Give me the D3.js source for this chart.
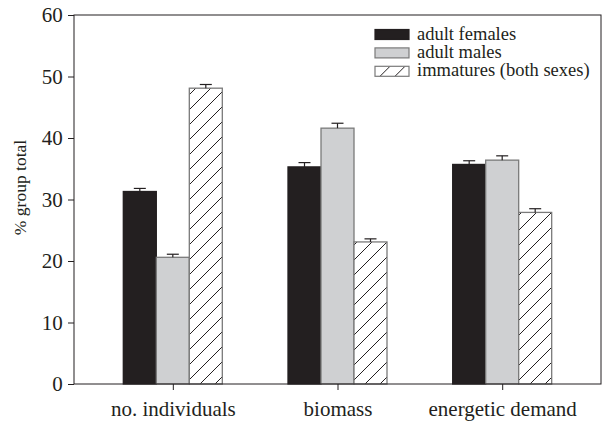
<!DOCTYPE html>
<html>
<head>
<meta charset="utf-8">
<script src="https://cdn.jsdelivr.net/npm/d3@7"></script>
<style>
  body { margin: 0; background: #fff; }
</style>
</head>
<body>
<svg id="chart" width="606" height="421"></svg>
<script>
const categories = ["no. individuals", "biomass", "energetic demand"];
const seriesNames = ["adult females", "adult males", "immatures (both sexes)"];
const females = [31.3, 35.3, 35.7];
const males = [20.6, 41.6, 36.4];
const immatures = [48.1, 23.1, 27.9];
const femalesErr = [0.5, 0.7, 0.6];
const malesErr = [0.5, 0.8, 0.7];
const immaturesErr = [0.6, 0.5, 0.6];
const yTicks = [0, 10, 20, 30, 40, 50, 60];

const FONT = '"Liberation Serif", "Times New Roman", serif';
const INK = "#231f20";
// the serif face only shows at small sizes here, so draw at 17px and scale up
const BASE = 17;
const KT = 21 / BASE;
const KL = 18.5 / BASE;

const svg = d3.select("#chart");
const margin = { top: 15, right: 5, bottom: 37, left: 74 };
const width = 606 - margin.left - margin.right;
const height = 421 - margin.top - margin.bottom;

const series = [
  { name: seriesNames[0], values: females, err: femalesErr, fill: INK },
  { name: seriesNames[1], values: males, err: malesErr, fill: "#cfd0d2" },
  { name: seriesNames[2], values: immatures, err: immaturesErr, fill: "url(#hatch)" },
];

// hatch pattern
const defs = svg.append("defs");
const pat = defs.append("pattern")
  .attr("id", "hatch")
  .attr("patternUnits", "userSpaceOnUse")
  .attr("width", 15).attr("height", 15);
pat.append("rect").attr("width", 15).attr("height", 15).attr("fill", "#fff");
pat.append("path")
  .attr("d", "M-1,16 L16,-1 M-4,4 L4,-4 M11,19 L19,11")
  .attr("stroke", INK).attr("stroke-width", 1);

const g = svg.append("g").attr("transform", `translate(${margin.left},${margin.top})`);

const x = d3.scalePoint().domain(categories).range([0, width]).padding(0.6);
const barW = 33;
const y = d3.scaleLinear().domain([0, 60]).range([height, 0]);

// bars
series.forEach((s, si) => {
  const off = (si - 1) * barW - barW / 2;
  g.append("g").selectAll("rect")
    .data(s.values)
    .join("rect")
    .attr("x", (d, i) => x(categories[i]) + off)
    .attr("y", (d) => y(d))
    .attr("width", barW)
    .attr("height", (d) => y(0) - y(d))
    .attr("fill", s.fill)
    .attr("stroke", si === 0 ? INK : "#7a7a7a")
    .attr("stroke-width", 1.3);

  // error bars
  const eg = g.append("g").attr("stroke", INK).attr("stroke-width", 1.2);
  s.values.forEach((v, i) => {
    const cx = x(categories[i]) + off + barW / 2;
    eg.append("line").attr("x1", cx).attr("x2", cx).attr("y1", y(v)).attr("y2", y(v + s.err[i]));
    eg.append("line").attr("x1", cx - 6).attr("x2", cx + 6).attr("y1", y(v + s.err[i])).attr("y2", y(v + s.err[i]));
  });
});

// frame
g.append("rect")
  .attr("width", width).attr("height", height)
  .attr("fill", "none").attr("stroke", INK).attr("stroke-width", 1);

// axes
const yAxis = g.append("g")
  .call(d3.axisLeft(y).tickValues(yTicks).tickSize(6));
yAxis.select(".domain").remove();
yAxis.selectAll("line").attr("stroke", INK);
yAxis.selectAll("text")
  .attr("font-size", BASE)
  .attr("fill", INK)
  .style("font-family", FONT)
  .attr("x", -11.3 / KT)
  .attr("transform", `scale(${KT})`);

const xAxis = g.append("g")
  .attr("transform", `translate(0,${height})`)
  .call(d3.axisBottom(x).tickSize(6));
xAxis.select(".domain").remove();
xAxis.selectAll("line").attr("stroke", INK);
xAxis.selectAll("text")
  .attr("font-size", BASE)
  .attr("fill", INK)
  .style("font-family", FONT)
  .attr("dy", 0)
  .attr("y", 31.5 / KT)
  .attr("transform", `scale(${KT})`);

// y label
g.append("text")
  .attr("transform", `translate(-48,${height / 2 - 12}) rotate(-90)`)
  .attr("text-anchor", "middle")
  .style("font-family", FONT)
  .attr("font-size", 17.5)
  .attr("fill", INK)
  .text("% group total");

// legend
const lg = g.append("g").attr("transform", "translate(301,14.5)");
series.forEach((s, i) => {
  const row = lg.append("g").attr("transform", `translate(0,${i * 18.4})`);
  row.append("rect")
    .attr("width", 34).attr("height", 10)
    .attr("fill", s.fill)
    .attr("stroke", i === 0 ? INK : "#7a7a7a")
    .attr("stroke-width", 1.2);
  row.append("text")
    .attr("transform", `translate(42,10) scale(${KL})`)
    .style("font-family", FONT)
    .attr("font-size", BASE)
    .attr("fill", INK)
    .text(s.name);
});
</script>
</body>
</html>
